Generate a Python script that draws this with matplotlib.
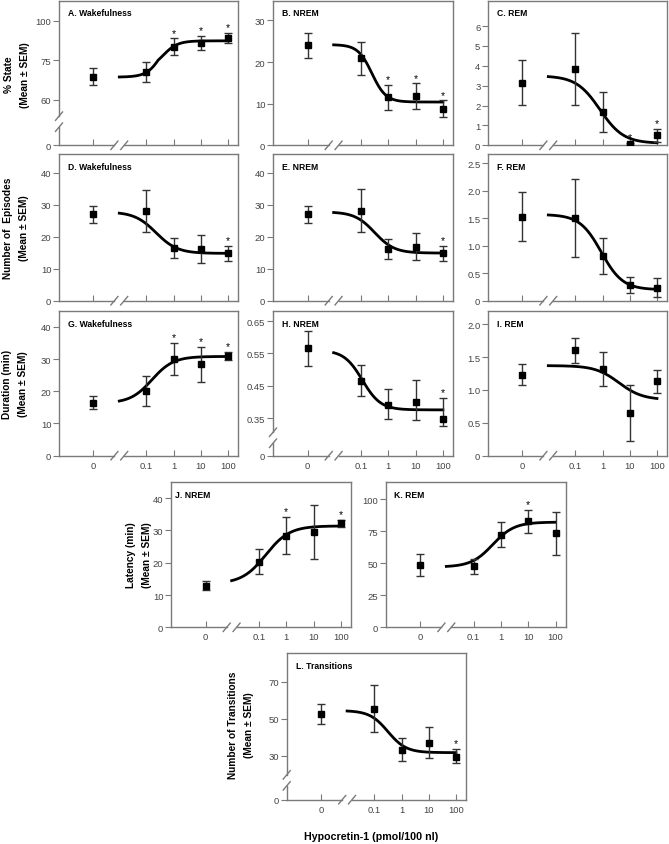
import numpy as np
import matplotlib
matplotlib.use('Agg')
import matplotlib.pyplot as plt

plt.rcParams['font.family'] = ['Liberation Sans', 'DejaVu Sans']

# hypocretin-1 doses (pmol/100 nl)
doses = [0, 0.1, 1, 10, 100]
dose_labels = ['0', '0.1', '1', '10', '100']

# % of time in each state
wake_pct = [68.8, 70.5, 83.8, 86.0, 89.2]
wake_pct_sem = [3.2, 3.8, 5.2, 4.4, 3.4]
nrem_pct = [24.1, 20.9, 11.5, 11.8, 8.8]
nrem_pct_sem = [3.0, 4.0, 3.1, 3.1, 2.0]
rem_pct = [3.16, 3.85, 1.68, 0.08, 0.50]
rem_pct_sem = [1.13, 1.8, 1.0, 0.04, 0.33]

# number of episodes
wake_ep = [27.0, 28.1, 16.5, 16.2, 14.8]
wake_ep_sem = [2.65, 6.5, 3.25, 4.4, 2.4]
nrem_ep = [27.0, 28.2, 16.2, 16.9, 14.9]
nrem_ep_sem = [2.7, 6.6, 3.2, 4.2, 2.35]
rem_ep = [1.53, 1.50, 0.82, 0.29, 0.24]
rem_ep_sem = [0.45, 0.71, 0.33, 0.15, 0.17]

# episode duration (min)
wake_dur = [16.4, 20.1, 30.0, 28.3, 30.9]
wake_dur_sem = [2.05, 4.7, 5.0, 5.35, 1.25]
nrem_dur = [0.566, 0.466, 0.391, 0.401, 0.347]
nrem_dur_sem = [0.054, 0.047, 0.048, 0.068, 0.066]
rem_dur = [1.23, 1.60, 1.32, 0.65, 1.13]
rem_dur_sem = [0.16, 0.19, 0.26, 0.42, 0.17]

# latency (min)
nrem_lat = [12.8, 20.3, 28.4, 29.6, 32.2]
nrem_lat_sem = [1.4, 3.85, 5.8, 8.3, 1.0]
rem_lat = [48.4, 47.4, 72.1, 82.6, 73.2]
rem_lat_sem = [8.7, 5.5, 9.8, 9.0, 17.0]

# transitions
trans = [52.7, 55.6, 32.9, 37.0, 29.5]
trans_sem = [5.4, 12.5, 6.7, 8.5, 4.3]

# significance stars (1 = *)
stars_a = [0, 0, 1, 1, 1]
stars_b = [0, 0, 1, 1, 1]
stars_c = [0, 0, 0, 1, 1]
stars_d = [0, 0, 0, 0, 1]
stars_e = [0, 0, 0, 0, 1]
stars_f = [0, 0, 0, 0, 0]
stars_g = [0, 0, 1, 1, 1]
stars_h = [0, 0, 0, 0, 1]
stars_i = [0, 0, 0, 0, 0]
stars_j = [0, 0, 1, 0, 1]
stars_k = [0, 0, 0, 1, 0]
stars_l = [0, 0, 0, 0, 1]

# sigmoid fits: low-dose level, high-dose level, log EC50, hill slope
fit_a = [68.6, 87.4, -0.4, 1.6]
fit_b = [24.2, 10.4, -0.6, 1.7]
fit_c = [3.5, 0.1, -0.1, 1.0]
fit_d = [27.8, 14.8, -0.65, 1.1]
fit_e = [27.8, 14.9, -0.5, 1.2]
fit_f = [1.57, 0.2, -0.05, 1.1]
fit_g = [16.3, 30.8, -0.8, 1.1]
fit_h = [0.56, 0.376, -0.95, 1.3]
fit_i = [1.37, 0.85, 0.6, 1.0]
fit_j = [13.5, 31.4, -0.75, 1.0]
fit_k = [47.0, 82.0, -0.3, 1.1]
fit_l = [54.5, 31.7, -0.5, 1.3]

W, H = 669, 845
SPINE = '#7a7a7a'
TICKC = '#444444'
ZERO_POS = -2.95          # where dose 0 sits on the log axis
XPOS = (-4.22, 2.37)
BRK, GAP = -2.0, 0.18

fig = plt.figure(figsize=(W / 100, H / 100), dpi=100)


def dose_to_pos(d):
    d = np.asarray(d, float)
    return np.log10(np.where(d > 0, d, 10 ** ZERO_POS))


def pos_to_dose(p):
    return 10 ** np.asarray(p, float)


def slash(ax, xf, yf, wpx, hpx):
    sx, sy = 3.5 / wpx, 4.2 / hpx
    ax.plot([xf - sx, xf + sx], [yf - sy, yf + sy], transform=ax.transAxes,
            color=SPINE, lw=1, clip_on=False, zorder=5)


def panel(px, title, mean, sem, stars, fit, yticks, ylim, ymap=None, ybrk=None,
          xlabels=False, tx=0.05):
    left, top, right, bottom = px
    wpx, hpx = right - left, bottom - top
    ax = fig.add_axes([left / W, 1 - bottom / H, wpx / W, hpx / H])
    ax.set_xscale('function', functions=(dose_to_pos, pos_to_dose))
    if ymap is not None:
        vals, pos = ymap
        ax.set_yscale('function', functions=(lambda v: np.interp(v, vals, pos),
                                             lambda p: np.interp(p, pos, vals)))

    xs = np.linspace(-2, 2, 200)
    lo, hi, ec50, hill = fit
    ax.plot(10 ** xs, lo + (hi - lo) / (1 + 10 ** ((ec50 - xs) * hill)),
            color='black', lw=2.0, zorder=3)
    ax.errorbar(doses, mean, yerr=sem, fmt='s', ms=4.3, mfc='black', mec='black',
                ecolor='#333333', elinewidth=1, capsize=2.6, capthick=1, zorder=4)
    for d, m, s, st in zip(doses, mean, sem, stars):
        if st:
            ax.annotate('*', (d, m + s), xytext=(0, 0.5), textcoords='offset points',
                        ha='center', va='bottom', fontsize=7.5)

    # ticks first: set_xticks would otherwise widen the limits to reach dose 0
    ax.set_xticks(doses)
    ax.set_xticklabels(dose_labels if xlabels else [''] * len(doses))
    ax.set_yticks(yticks[0])
    ax.set_yticklabels(yticks[1])
    ax.xaxis.set_minor_locator(plt.NullLocator())
    ax.yaxis.set_minor_locator(plt.NullLocator())
    ax.set_xlim(10 ** XPOS[0], 10 ** XPOS[1])
    ax.set_ylim(*ylim)
    ax.tick_params(axis='x', direction='in', length=4.5, width=0.8, color=SPINE,
                   labelsize=6.8, labelcolor=TICKC, pad=3.5)
    ax.tick_params(axis='y', direction='out', length=4, width=0.8, color=SPINE,
                   labelsize=6.8, labelcolor=TICKC, pad=1.5)
    for s in ax.spines.values():
        s.set_color(SPINE)
        s.set_linewidth(1.0)

    # broken x axis between dose 0 and 0.1
    ax.spines['bottom'].set_visible(False)
    tr = ax.get_xaxis_transform()
    ax.plot([10 ** XPOS[0], 10 ** (BRK - GAP)], [0, 0], transform=tr, color=SPINE,
            lw=1, clip_on=False)
    ax.plot([10 ** (BRK + GAP), 10 ** XPOS[1]], [0, 0], transform=tr, color=SPINE,
            lw=1, clip_on=False)
    for b in (BRK - GAP, BRK + GAP):
        slash(ax, (b - XPOS[0]) / (XPOS[1] - XPOS[0]), 0, wpx, hpx)

    # broken y axis
    if ybrk is not None:
        ax.spines['left'].set_visible(False)
        f = ax.transScale.transform
        y0, y1, yb = (f((1, v))[1] for v in (ylim[0], ylim[1], ybrk))
        fb = (yb - y0) / (y1 - y0)
        g = 5.5 / hpx
        ax.plot([0, 0], [0, fb - g], transform=ax.transAxes, color=SPINE, lw=1,
                clip_on=False)
        ax.plot([0, 0], [fb + g, 1], transform=ax.transAxes, color=SPINE, lw=1,
                clip_on=False)
        slash(ax, 0, fb - g, wpx, hpx)
        slash(ax, 0, fb + g, wpx, hpx)

    ax.set_xlim(10 ** XPOS[0], 10 ** XPOS[1])
    ax.set_ylim(*ylim)
    ax.text(tx, 1 - 12.5 / hpx, title, transform=ax.transAxes, fontsize=6.2,
            fontweight='bold', va='center', ha='left')
    return ax


col = [(59, 238), (273, 453), (488, 667)]
row = [(1.5, 146.3), (155, 301.7), (312, 456.7)]


def grid(c, r):
    return (col[c][0], row[r][0], col[c][1], row[r][1])


t10_40 = ([0, 10, 20, 30, 40], ['0', '10', '20', '30', '40'])

panel(grid(0, 0), 'A. Wakefulness', wake_pct, wake_pct_sem, stars_a, fit_a,
      ([0, 60, 75, 100], ['0', '60', '75', '100']), (0, 112.9),
      ymap=([0, 60, 75, 100, 200], [0, 45.6, 84.6, 124, 281.6]), ybrk=31)
panel(grid(1, 0), 'B. NREM', nrem_pct, nrem_pct_sem, stars_b, fit_b,
      ([0, 10, 20, 30], ['0', '10', '20', '30']), (0, 34.8))
panel(grid(2, 0), 'C. REM', rem_pct, rem_pct_sem, stars_c, fit_c,
      (list(range(7)), [str(v) for v in range(7)]), (0, 7.29))

panel(grid(0, 1), 'D. Wakefulness', wake_ep, wake_ep_sem, stars_d, fit_d, t10_40, (0, 45.9))
panel(grid(1, 1), 'E. NREM', nrem_ep, nrem_ep_sem, stars_e, fit_e, t10_40, (0, 45.9))
panel(grid(2, 1), 'F. REM', rem_ep, rem_ep_sem, stars_f, fit_f,
      ([0, 0.5, 1, 1.5, 2, 2.5], ['0', '0.5', '1.0', '1.5', '2.0', '2.5']), (0, 2.67))

panel(grid(0, 2), 'G. Wakefulness', wake_dur, wake_dur_sem, stars_g, fit_g, t10_40,
      (0, 44.9), xlabels=True)
panel(grid(1, 2), 'H. NREM', nrem_dur, nrem_dur_sem, stars_h, fit_h,
      ([0, 0.35, 0.45, 0.55, 0.65], ['0', '0.35', '0.45', '0.55', '0.65']), (0, 0.681),
      ymap=([0, 0.35, 0.65, 2.0], [0, 37.4, 134.7, 572.5]), ybrk=0.168, xlabels=True)
panel(grid(2, 2), 'I. REM', rem_dur, rem_dur_sem, stars_i, fit_i,
      ([0, 0.5, 1, 1.5, 2], ['0', '0.5', '1.0', '1.5', '2.0']), (0, 2.2), xlabels=True)

panel((171, 482.7, 351, 628.3), 'J. NREM', nrem_lat, nrem_lat_sem, stars_j, fit_j,
      t10_40, (0, 45.1), xlabels=True, tx=0.02)
panel((385.7, 482.7, 565.7, 628.3), 'K. REM', rem_lat, rem_lat_sem, stars_k, fit_k,
      ([0, 25, 50, 75, 100], ['0', '25', '50', '75', '100']), (0, 113.5),
      xlabels=True, tx=0.045)
panel((286.7, 654.3, 466, 800.7), 'L. Transitions', trans, trans_sem, stars_l, fit_l,
      ([0, 30, 50, 70], ['0', '30', '50', '70']), (0, 85.5),
      ymap=([0, 30, 70, 200], [0, 44, 118, 358.5]), ybrk=13.2, xlabels=True)

ylabels = [
    (17, 75, '% State\n(Mean ± SEM)'),
    (16.5, 228, 'Number of  Episodes\n(Mean ± SEM)'),
    (15, 384, 'Duration (min)\n(Mean ± SEM)'),
    (139, 555, 'Latency (min)\n(Mean ± SEM)'),
    (241, 725, 'Number of Transitions\n(Mean ± SEM)'),
]
for x, y, s in ylabels:
    fig.text(x / W, 1 - y / H, s, rotation=90, ha='center', va='center',
             multialignment='center', fontsize=7.3, fontweight='bold', linespacing=1.75)

fig.text(370.7 / W, 1 - 836.7 / H, 'Hypocretin-1 (pmol/100 nl)', ha='center',
         va='center', fontsize=7.7, fontweight='bold')

fig.savefig('out.png', dpi=100)
